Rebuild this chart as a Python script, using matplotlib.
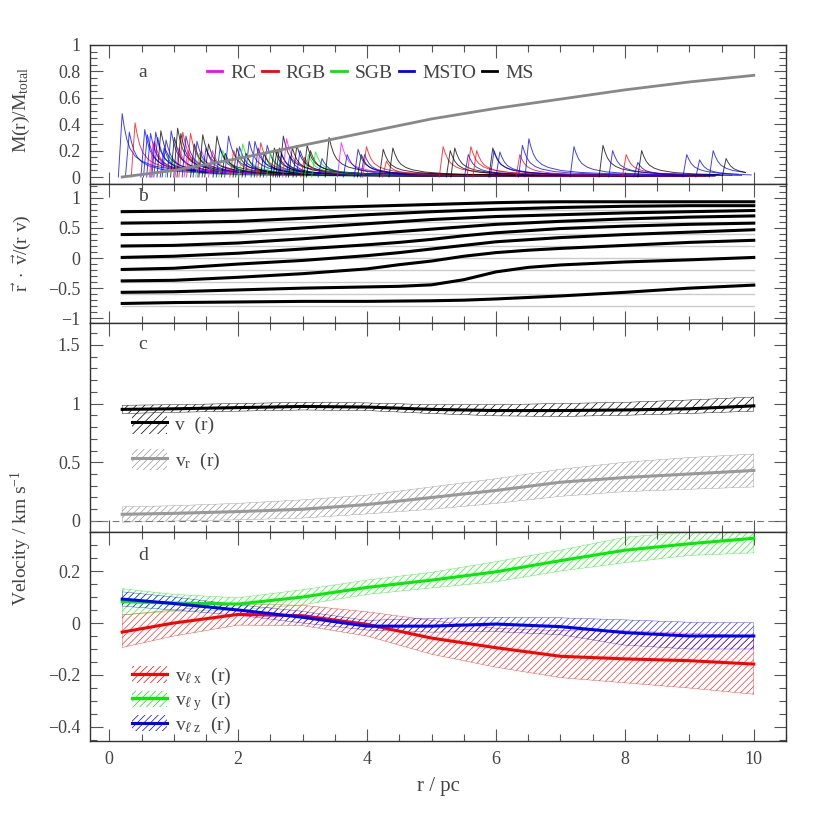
#!/usr/bin/env python3
"""
Four stacked radial profiles: mass fraction (a), alignment r.v/(rv) (b),
velocity amplitude (c) and velocity components (d) against r / pc.
"""

import matplotlib

matplotlib.use("Agg")
import matplotlib.pyplot as plt
from matplotlib.legend_handler import HandlerTuple
from matplotlib.lines import Line2D
from matplotlib.patches import Patch
from matplotlib.ticker import FuncFormatter, MultipleLocator

# ---------------- data ----------------
r_grid = [0.2, 1, 2, 3, 4, 5, 6, 7, 8, 9, 10]

# panel a: cumulative mass fraction
mass_frac = [0.0, 0.05, 0.14, 0.24, 0.34, 0.44, 0.52, 0.59, 0.66, 0.72, 0.77]

# panel a: single-star contributions (peak position, peak height, class)
spike_r = [0.20, 0.31, 0.40, 0.55, 0.59, 0.64, 0.68, 0.70, 0.72, 0.75,
           0.80, 0.85, 0.88, 0.93, 0.96, 1.01, 1.06, 1.08, 1.11, 1.14,
           1.19, 1.22, 1.26, 1.32, 1.36, 1.40, 1.43, 1.45, 1.50, 1.54,
           1.60, 1.67, 1.72, 1.76, 1.80, 1.85, 1.93, 1.98, 2.02, 2.07,
           2.12, 2.17, 2.26, 2.31, 2.35, 2.40, 2.45, 2.50, 2.56, 2.60,
           2.64, 2.67, 2.70, 2.75, 2.80, 2.84, 2.91, 2.96, 3.03, 3.07,
           3.09, 3.12, 3.20, 3.30, 3.41, 3.60, 3.69, 3.86, 3.91, 3.96,
           3.99, 4.25, 4.30, 4.40, 5.18, 5.29, 5.36, 5.57, 5.61, 5.70,
           5.95, 5.97, 6.06, 6.37, 6.41, 6.51, 7.21, 7.66, 7.81, 8.02,
           8.20, 8.26, 8.96, 9.16, 9.37, 9.57]
spike_h = [0.48, 0.34, 0.41, 0.36, 0.32, 0.33, 0.26, 0.27, 0.34, 0.30,
           0.35, 0.22, 0.28, 0.16, 0.35, 0.30, 0.37, 0.22, 0.33, 0.34,
           0.31, 0.20, 0.33, 0.25, 0.27, 0.18, 0.20, 0.32, 0.22, 0.25,
           0.20, 0.31, 0.22, 0.20, 0.18, 0.31, 0.20, 0.22, 0.23, 0.25,
           0.18, 0.27, 0.27, 0.22, 0.26, 0.18, 0.24, 0.18, 0.22, 0.20,
           0.22, 0.18, 0.31, 0.29, 0.16, 0.22, 0.24, 0.20, 0.15, 0.24,
           0.17, 0.20, 0.19, 0.14, 0.30, 0.26, 0.17, 0.21, 0.17, 0.17,
           0.23, 0.21, 0.12, 0.22, 0.23, 0.20, 0.22, 0.17, 0.23, 0.20,
           0.22, 0.20, 0.19, 0.17, 0.24, 0.29, 0.23, 0.24, 0.20, 0.17,
           0.11, 0.20, 0.17, 0.13, 0.20, 0.14]
spike_cls = ["MSTO", "MSTO", "RGB", "MSTO", "MSTO", "MSTO", "RC", "RGB", "MSTO", "MSTO",
             "MS", "MSTO", "MSTO", "SGB", "MSTO", "MS", "MS", "RC", "MS", "RGB",
             "MSTO", "RC", "RGB", "MS", "MSTO", "SGB", "RC", "MS", "MSTO", "MS",
             "RC", "MS", "MSTO", "SGB", "MS", "MSTO", "RGB", "MS", "MSTO", "SGB",
             "MS", "MSTO", "MSTO", "MSTO", "RGB", "MS", "MSTO", "SGB", "MS", "MS",
             "MS", "MSTO", "MS", "RC", "MSTO", "MS", "MS", "MSTO", "RGB", "MS",
             "SGB", "MS", "SGB", "MSTO", "MS", "RC", "MSTO", "MSTO", "MS", "MSTO",
             "RGB", "MS", "RGB", "MS", "RGB", "MS", "MS", "MSTO", "RGB", "RGB",
             "MS", "MSTO", "MSTO", "RGB", "MSTO", "MSTO", "MSTO", "MS", "MSTO", "RGB",
             "MSTO", "MS", "MSTO", "MSTO", "MSTO", "MS"]
# shape of one contribution (offset from peak, fraction of peak)
tmpl_dr = [-0.06, 0.0, 0.03, 0.07, 0.12, 0.2, 0.3, 0.5, 0.8, 1.2, 2.0, 3.0, 5.0, 10.0]
tmpl_rel = [0.0, 1.0, 0.8, 0.6, 0.45, 0.33, 0.25, 0.17, 0.12, 0.09, 0.06, 0.045, 0.03, 0.02]
classes = ["RC", "RGB", "SGB", "MSTO", "MS"]
class_colors = ["#ff00ff", "#ff0000", "#00ee00", "#0000ff", "#000000"]

# panel b: reference levels and percentile curves of r.v/(rv)
b_ref = [0.8, 0.6, 0.4, 0.2, 0.0, -0.2, -0.4, -0.6, -0.8]
b_r = [0.2, 1, 2, 3, 4, 4.5, 5, 5.5, 6, 6.5, 7, 8, 9, 10]
b_curves = [
    [0.77, 0.78, 0.80, 0.83, 0.86, 0.875, 0.89, 0.905, 0.92, 0.93, 0.935, 0.935, 0.935, 0.935],
    [0.58, 0.59, 0.61, 0.66, 0.72, 0.745, 0.77, 0.79, 0.81, 0.825, 0.84, 0.86, 0.87, 0.87],
    [0.39, 0.40, 0.43, 0.50, 0.57, 0.605, 0.64, 0.665, 0.69, 0.705, 0.72, 0.75, 0.77, 0.79],
    [0.20, 0.21, 0.25, 0.32, 0.40, 0.44, 0.48, 0.52, 0.56, 0.585, 0.61, 0.65, 0.68, 0.70],
    [0.01, 0.03, 0.08, 0.15, 0.22, 0.26, 0.31, 0.37, 0.42, 0.455, 0.49, 0.53, 0.56, 0.58],
    [-0.19, -0.17, -0.10, -0.04, 0.04, 0.09, 0.15, 0.21, 0.27, 0.305, 0.34, 0.39, 0.43, 0.47],
    [-0.38, -0.37, -0.32, -0.26, -0.18, -0.11, -0.05, 0.03, 0.09, 0.13, 0.16, 0.21, 0.26, 0.295],
    [-0.57, -0.56, -0.53, -0.50, -0.48, -0.47, -0.445, -0.36, -0.23, -0.155, -0.115, -0.065, -0.03, 0.01],
    [-0.755, -0.74, -0.73, -0.72, -0.72, -0.715, -0.71, -0.70, -0.68, -0.655, -0.63, -0.57, -0.50, -0.45],
]

# panel c: |v| and radial velocity with ranges
v_mid = [0.95, 0.955, 0.965, 0.975, 0.97, 0.95, 0.94, 0.94, 0.945, 0.955, 0.98]
v_lo = [0.915, 0.925, 0.935, 0.945, 0.94, 0.915, 0.895, 0.89, 0.90, 0.915, 0.935]
v_hi = [0.985, 0.99, 1.0, 1.01, 1.005, 0.99, 0.99, 1.0, 1.01, 1.03, 1.055]
vr_mid = [0.057, 0.065, 0.08, 0.10, 0.14, 0.20, 0.26, 0.33, 0.37, 0.40, 0.43]
vr_lo = [-0.01, 0.0, 0.01, 0.025, 0.06, 0.10, 0.15, 0.21, 0.25, 0.27, 0.29]
vr_hi = [0.12, 0.13, 0.15, 0.18, 0.22, 0.29, 0.36, 0.44, 0.50, 0.54, 0.57]

# panel d: velocity components with ranges
vx_mid = [-0.035, 0.0, 0.033, 0.028, -0.005, -0.058, -0.095, -0.128, -0.138, -0.145, -0.158]
vx_lo = [-0.094, -0.05, -0.008, -0.01, -0.05, -0.12, -0.17, -0.21, -0.23, -0.25, -0.274]
vx_hi = [0.031, 0.05, 0.073, 0.068, 0.043, 0.01, -0.02, -0.03, -0.03, -0.04, -0.05]
vy_mid = [0.082, 0.077, 0.073, 0.10, 0.137, 0.165, 0.197, 0.24, 0.28, 0.305, 0.326]
vy_lo = [0.031, 0.045, 0.05, 0.07, 0.11, 0.135, 0.159, 0.20, 0.232, 0.26, 0.27]
vy_hi = [0.132, 0.11, 0.097, 0.128, 0.165, 0.195, 0.236, 0.28, 0.33, 0.35, 0.35]
vz_mid = [0.092, 0.075, 0.05, 0.022, -0.012, -0.012, -0.004, -0.014, -0.037, -0.05, -0.05]
vz_lo = [0.065, 0.05, 0.03, 0.0, -0.027, -0.035, -0.033, -0.045, -0.085, -0.10, -0.10]
vz_hi = [0.12, 0.10, 0.07, 0.045, 0.01, 0.018, 0.022, 0.02, 0.012, 0.003, 0.001]

TXT = "#444444"
RED, GREEN, BLUE = "#ff0000", "#00ee00", "#0000ff"

plt.rcParams["font.family"] = ["Liberation Serif", "DejaVu Serif"]
plt.rcParams["mathtext.fontset"] = "custom"
plt.rcParams["mathtext.rm"] = "Liberation Serif"
plt.rcParams["mathtext.it"] = "Liberation Serif:italic"
plt.rcParams["hatch.linewidth"] = 0.5
plt.rcParams["font.size"] = 13


def fmt(v, pos):
    return f"{v:g}".replace("-", "\u2212")


def style_axis(ax, ylim, ymaj, ymin, xlabels=False):
    ax.set_xlim(-0.3, 10.5)
    ax.set_ylim(*ylim)
    ax.xaxis.set_major_locator(MultipleLocator(2))
    ax.xaxis.set_minor_locator(MultipleLocator(0.5))
    ax.yaxis.set_major_locator(MultipleLocator(ymaj))
    ax.yaxis.set_minor_locator(MultipleLocator(ymin))
    ax.yaxis.set_major_formatter(FuncFormatter(fmt))
    ax.xaxis.set_major_formatter(FuncFormatter(fmt))
    ax.tick_params(which="both", direction="in", top=True, right=True,
                   color="#555555", labelcolor=TXT, labelsize=13, width=0.8)
    ax.tick_params(which="major", length=9, pad=7)
    ax.tick_params(which="minor", length=5)
    if not xlabels:
        ax.tick_params(axis="x", labelbottom=False)
    for s in ax.spines.values():
        s.set_color("#333333")
        s.set_linewidth(1.0)


def band_handle(color, hatch):
    # hatched patch with the median line drawn over it
    return (Patch(facecolor="none", edgecolor=color, hatch=hatch, lw=0),
            Line2D([], [], color=color, lw=2.2))


def draw_mass(ax):
    for r0, h, c in zip(spike_r, spike_h, spike_cls):
        xs = [r0 + d for d in tmpl_dr if r0 + d <= 10]
        ys = [h * f for d, f in zip(tmpl_dr, tmpl_rel) if r0 + d <= 10]
        ax.plot(xs, ys, color=class_colors[classes.index(c)], lw=0.7, alpha=0.75)
    ax.plot(r_grid, mass_frac, color="#888888", lw=2)
    handles = [Line2D([], [], color=c, lw=2) for c in class_colors]
    ax.legend(handles, classes, loc="center left", bbox_to_anchor=(0.154, 0.80),
              ncol=5, frameon=False, handlelength=0.8, handletextpad=0.4,
              columnspacing=0.3, borderpad=0, fontsize=14, labelcolor=TXT)
    ax.text(0.45, 0.79, "a", color=TXT, fontsize=14, va="center")
    style_axis(ax, (-0.053, 1.0), 0.2, 0.05)


def draw_alignment(ax):
    for y in b_ref:
        ax.plot([0.2, 10], [y, y], color="#cccccc", lw=1)
    for curve in b_curves:
        ax.plot(b_r, curve, color="black", lw=2.2)
    ax.text(0.45, 1.03, "b", color=TXT, fontsize=14, va="center")
    style_axis(ax, (-1.08, 1.23), 0.5, 0.1)


def draw_speed(ax):
    ax.axhline(0, color="#777777", lw=0.8, dashes=(6, 4))
    ax.fill_between(r_grid, v_lo, v_hi, facecolor="none", edgecolor="black",
                    hatch="////", lw=0.3)
    ax.fill_between(r_grid, vr_lo, vr_hi, facecolor="none", edgecolor="#999999",
                    hatch="/////", lw=0.3)
    ax.plot(r_grid, v_mid, color="black", lw=2.2)
    ax.plot(r_grid, vr_mid, color="#999999", lw=2.2)
    handles = [band_handle("black", "////"), band_handle("#999999", "/////")]
    ax.legend(handles, ["v  (r)", "v$_\\mathrm{r}$  (r)"], loc="upper left",
              bbox_to_anchor=(0.046, 0.615), frameon=False, borderpad=0,
              handlelength=1.8, handleheight=1.3, handletextpad=0.45,
              labelspacing=0.75, fontsize=14, labelcolor=TXT,
              handler_map={tuple: HandlerTuple(ndivide=1)})
    ax.text(0.45, 1.5, "c", color=TXT, fontsize=14, va="center")
    style_axis(ax, (-0.094, 1.685), 0.5, 0.1)


def draw_components(ax):
    comps = [(vx_lo, vx_mid, vx_hi, RED), (vy_lo, vy_mid, vy_hi, GREEN),
             (vz_lo, vz_mid, vz_hi, BLUE)]
    for lo, mid, hi, c in comps:
        ax.fill_between(r_grid, lo, hi, facecolor="none", edgecolor=c,
                        hatch="/////", lw=0.3, alpha=0.8)
    for lo, mid, hi, c in comps:
        ax.plot(r_grid, mid, color=c, lw=2.2)
    handles = [band_handle(c, "/////") for c in (RED, GREEN, BLUE)]
    labels = ["v$_{\\ell\\ \\mathrm{x}}$  (r)", "v$_{\\ell\\ \\mathrm{y}}$  (r)",
              "v$_{\\ell\\ \\mathrm{z}}$  (r)"]
    ax.legend(handles, labels, loc="upper left", bbox_to_anchor=(0.046, 0.405),
              frameon=False, borderpad=0, handlelength=1.8, handleheight=0.9,
              handletextpad=0.45, labelspacing=0.1, fontsize=14, labelcolor=TXT,
              handler_map={tuple: HandlerTuple(ndivide=1)})
    ax.text(0.45, 0.26, "d", color=TXT, fontsize=14, va="center")
    style_axis(ax, (-0.454, 0.35), 0.2, 0.05, xlabels=True)


def main():
    fig = plt.figure(figsize=(8.3, 8.3), dpi=100)
    left, width = 0.1084, 0.8386
    ax_a = fig.add_axes([left, 0.7783, width, 0.1675])
    ax_b = fig.add_axes([left, 0.6108, width, 0.1675])
    ax_c = fig.add_axes([left, 0.3590, width, 0.2518])
    ax_d = fig.add_axes([left, 0.1072, width, 0.2518])

    draw_mass(ax_a)
    draw_alignment(ax_b)
    draw_speed(ax_c)
    draw_components(ax_d)

    fig.text(0.026, 0.867, "M(r)/M$_\\mathrm{total}$", rotation=90, color=TXT,
             fontsize=14, ha="center", va="center")
    fig.text(0.026, 0.695,
             "$\\vec{\\mathrm{r}}\\ \\cdot\\ \\vec{\\mathrm{v}}/(\\mathrm{r\\ v})$",
             rotation=90, color=TXT, fontsize=14, ha="center", va="center")
    fig.text(0.026, 0.351, "Velocity / km s$^{-1}$", rotation=90, color=TXT,
             fontsize=14, ha="center", va="center")
    fig.text(0.528, 0.052, "r / pc", color=TXT, fontsize=15, ha="center",
             va="center")

    fig.savefig("out.png", dpi=100)


if __name__ == "__main__":
    main()
